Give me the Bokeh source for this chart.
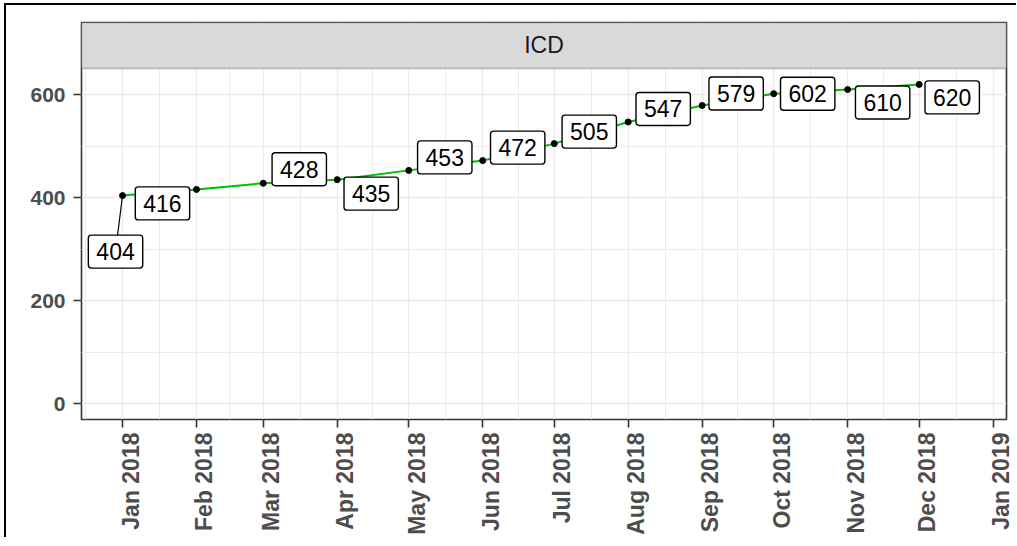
import math
from datetime import datetime

from bokeh.plotting import figure
from bokeh.models import (ColumnDataSource, FixedTicker, Label, DatetimeAxis,
                          BoxAnnotation, Range1d)
from bokeh.core.properties import value
from bokeh.embed import file_html
from bokeh.resources import INLINE

# ---------------- data ----------------
months = ["2018-01-01", "2018-02-01", "2018-03-01", "2018-04-01", "2018-05-01", "2018-06-01",
          "2018-07-01", "2018-08-01", "2018-09-01", "2018-10-01", "2018-11-01", "2018-12-01"]
icd = [404, 416, 428, 435, 453, 472, 505, 547, 579, 602, 610, 620]

tick_dates = ["2018-01-01", "2018-02-01", "2018-03-01", "2018-04-01", "2018-05-01",
              "2018-06-01", "2018-07-01", "2018-08-01", "2018-09-01", "2018-10-01",
              "2018-11-01", "2018-12-01", "2019-01-01"]
tick_labels = ["Jan 2018", "Feb 2018", "Mar 2018", "Apr 2018", "May 2018", "Jun 2018",
               "Jul 2018", "Aug 2018", "Sep 2018", "Oct 2018", "Nov 2018", "Dec 2018",
               "Jan 2019"]
y_ticks = [0, 200, 400, 600]
y_minor = [100, 300, 500]
panel_title = "ICD"

# label placement (screen px offsets from the point, repel-like; y down positive)
label_dx = [-7, -34, 36, 34, 36, 35, 35, 35, 34, 34, 35, 33]
label_dy = [56, 14, -14, 14, -13, -13, -12, -13, -12, 0, 13, 13]

# ---------------- helpers ----------------
EPOCH = datetime(1970, 1, 1)
DAY = 86400000.0


def ms(s):
    return (datetime.fromisoformat(s) - EPOCH).total_seconds() * 1000.0


x_ms = [ms(m) for m in months]
tick_ms = [ms(t) for t in tick_dates]
ext = [tick_ms[0] - 31 * DAY] + tick_ms
minor_ms = [(a + b) / 2 for a, b in zip(ext[:-1], ext[1:])]

x_start = tick_ms[0] - 17.2 * DAY
x_end = tick_ms[-1] + 5.6 * DAY
y_start = -31.0
strip_bottom = 651.0
y_end = 740.3

FW, FH = 925, 397
px_per_ms = FW / (x_end - x_start)
px_per_y = FH / (y_end - y_start)

FONT = "Liberation Sans"
AXIS_COL = "#4D4D4D"
DARK = "#333333"

p = figure(x_axis_type="datetime", frame_width=FW, frame_height=FH,
           output_backend="svg", toolbar_location=None,
           x_range=Range1d(x_start, x_end), y_range=Range1d(y_start, y_end),
           min_border_left=75, min_border_right=10, min_border_top=17,
           min_border_bottom=118, background_fill_color="white",
           border_fill_color="white")
p.styles = {"position": "relative", "top": "3px", "left": "4px",
            "border-top": "2px solid black", "border-left": "2px solid black"}

p.outline_line_color = DARK
p.outline_line_width = 1.6

# axes
p.xaxis.ticker = FixedTicker(ticks=tick_ms, minor_ticks=minor_ms)
p.yaxis.ticker = FixedTicker(ticks=y_ticks, minor_ticks=y_minor)
for ax in (p.xaxis[0], p.yaxis[0]):
    ax.axis_line_color = None
    ax.major_tick_line_color = DARK
    ax.major_tick_line_width = 1.6
    ax.major_tick_out = 8
    ax.major_tick_in = 0
    ax.minor_tick_line_color = None
    ax.major_label_text_font = FONT
    ax.major_label_text_font_style = "bold"
    ax.major_label_text_color = AXIS_COL
p.xaxis.major_label_overrides = {t: "" for t in tick_ms}
p.xaxis.major_label_text_font_size = "0px"
p.xaxis.major_label_standoff = 0
p.yaxis.major_label_text_font_size = "21px"
p.yaxis.major_label_standoff = 8

# rotated month labels on a second axis, nudged right like the rotated ggplot text
shift_px = 8
p.extra_x_ranges = {"lab": Range1d(x_start - shift_px / px_per_ms,
                                   x_end - shift_px / px_per_ms)}
lab_axis = DatetimeAxis(x_range_name="lab", ticker=FixedTicker(ticks=tick_ms),
                        major_label_overrides={t: lab for t, lab in zip(tick_ms, tick_labels)},
                        major_label_orientation=math.pi / 2,
                        major_label_text_font=FONT, major_label_text_font_size="23px",
                        major_label_text_font_style="bold", major_label_text_color=AXIS_COL,
                        major_label_standoff=5, axis_line_color=None,
                        major_tick_line_color=None, minor_tick_line_color=None,
                        major_tick_out=0, major_tick_in=0)
p.add_layout(lab_axis, "below")

# grid
for g in (p.xgrid[0], p.ygrid[0]):
    g.grid_line_color = "#EBEBEB"
    g.grid_line_width = 1.3
    g.minor_grid_line_color = "#EBEBEB"
    g.minor_grid_line_width = 1.0

# series
src = ColumnDataSource(dict(x=x_ms, y=icd, text=[str(v) for v in icd],
                            dx=label_dx, dy=label_dy))
p.line("x", "y", source=src, line_color="#00BF00", line_width=2)

# leader segments for labels placed far from their point
sx0, sy0, sx1, sy1 = [], [], [], []
for xv, yv, dx, dy in zip(x_ms, icd, label_dx, label_dy):
    if math.hypot(dx, dy) > 40:
        sx0.append(xv)
        sy0.append(yv)
        sx1.append(xv + dx / px_per_ms)
        sy1.append(yv - dy / px_per_y)
p.segment(sx0, sy0, sx1, sy1, line_color="black", line_width=1.2)

p.scatter("x", "y", source=src, size=6, color="black")

p.text(x="x", y="y", text="text", x_offset="dx", y_offset="dy", source=src,
       text_font=value(FONT), text_font_size="23px", text_color="black",
       text_align="center", text_baseline="middle",
       background_fill_color="white", border_line_color="black",
       border_line_width=1.4, padding=dict(left=8, right=8, top=8, bottom=8),
       border_radius=3)

# facet strip
p.add_layout(BoxAnnotation(bottom=strip_bottom, fill_color="#D9D9D9", fill_alpha=1.0,
                           line_color=DARK, line_width=1.6))
p.add_layout(Label(x=(x_start + x_end) / 2, y=(strip_bottom + y_end) / 2,
                   text=panel_title, text_align="center", text_baseline="middle",
                   text_font=FONT, text_font_size="23px", text_color="#1A1A1A"))

open("out.html", "w").write(file_html(p, INLINE))
